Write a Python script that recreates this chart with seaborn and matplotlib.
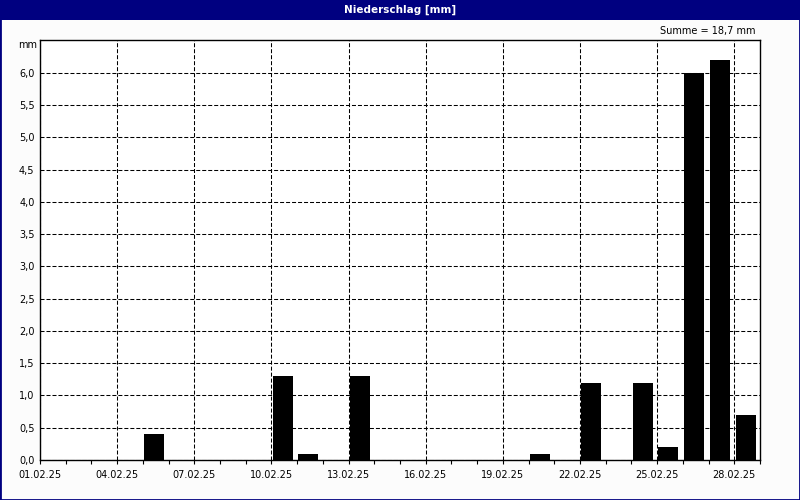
import matplotlib
matplotlib.use("Agg")
import matplotlib.pyplot as plt
import matplotlib.ticker as mticker
from matplotlib.patches import Rectangle
import seaborn as sns
import pandas as pd

# data
days = [5, 10, 11, 13, 20, 22, 24, 25, 26, 27, 28]
precip = [0.4, 1.3, 0.1, 1.3, 0.1, 1.2, 1.2, 0.2, 6.0, 6.2, 0.7]
tick_days = [1, 4, 7, 10, 13, 16, 19, 22, 25, 28]
tick_labels = ["01.02.25", "04.02.25", "07.02.25", "10.02.25", "13.02.25",
               "16.02.25", "19.02.25", "22.02.25", "25.02.25", "28.02.25"]
y_ticks = [0.0, 0.5, 1.0, 1.5, 2.0, 2.5, 3.0, 3.5, 4.0, 4.5, 5.0, 5.5, 6.0]
title = "Niederschlag [mm]"
total_text = "Summe = 18,7 mm"

sns.set_style("white")
plt.rcParams["font.family"] = ["DejaVu Sans"]

navy = "#000080"
fig = plt.figure(figsize=(8, 5), dpi=100, facecolor="#fcfcfc")
ax = fig.add_axes([40 / 800, 40 / 500, 720 / 800, 420 / 500])
ax.set_facecolor("white")

df = pd.DataFrame({"x": [d - 1 + 0.44 for d in days], "y": precip})
sns.barplot(data=df, x="x", y="y", native_scale=True, width=0.78,
            color="black", saturation=1, errorbar=None, ax=ax,
            edgecolor="black", linewidth=0)

ax.set_xlim(0, 28)
ax.set_ylim(0, 6.51)
ax.set_xticks([d - 1 for d in tick_days])
ax.set_xticklabels(tick_labels)
ax.xaxis.set_minor_locator(mticker.MultipleLocator(1))
ax.set_yticks(y_ticks)
ax.yaxis.set_major_formatter(mticker.FuncFormatter(lambda v, p: f"{v:.1f}".replace(".", ",")))
ax.set_xlabel("")
ax.set_ylabel("")

ax.tick_params(axis="x", which="both", direction="out", length=3, width=0.8,
               colors="black", labelsize=7, pad=4, bottom=True)
ax.tick_params(axis="y", which="both", length=0, labelsize=7, pad=4, colors="black", left=True)

ax.grid(True, which="major", axis="both", color="black", linestyle=(0, (3.85, 1.9)), linewidth=0.75)
ax.set_axisbelow(True)
for s in ax.spines.values():
    s.set_visible(True)
    s.set_color("black")
    s.set_linewidth(1.0)

# title bar and frame
fig.patches.append(Rectangle((0, 480 / 500), 1, 20 / 500, transform=fig.transFigure,
                             facecolor=navy, edgecolor="none", zorder=0))
fig.patches.append(Rectangle((0, 0), 1, 1, transform=fig.transFigure,
                             facecolor="none", edgecolor=navy, linewidth=2.0, zorder=5))
fig.text(0.5, 490 / 500, title, color="white", fontsize=7.5, fontweight="bold",
         ha="center", va="center")
fig.text(755 / 800, 469 / 500, total_text, color="black", fontsize=7, ha="right", va="center")
fig.text(37 / 800, 455 / 500, "mm", color="black", fontsize=7, ha="right", va="center")

fig.savefig("out.png", dpi=100, facecolor=fig.get_facecolor())
